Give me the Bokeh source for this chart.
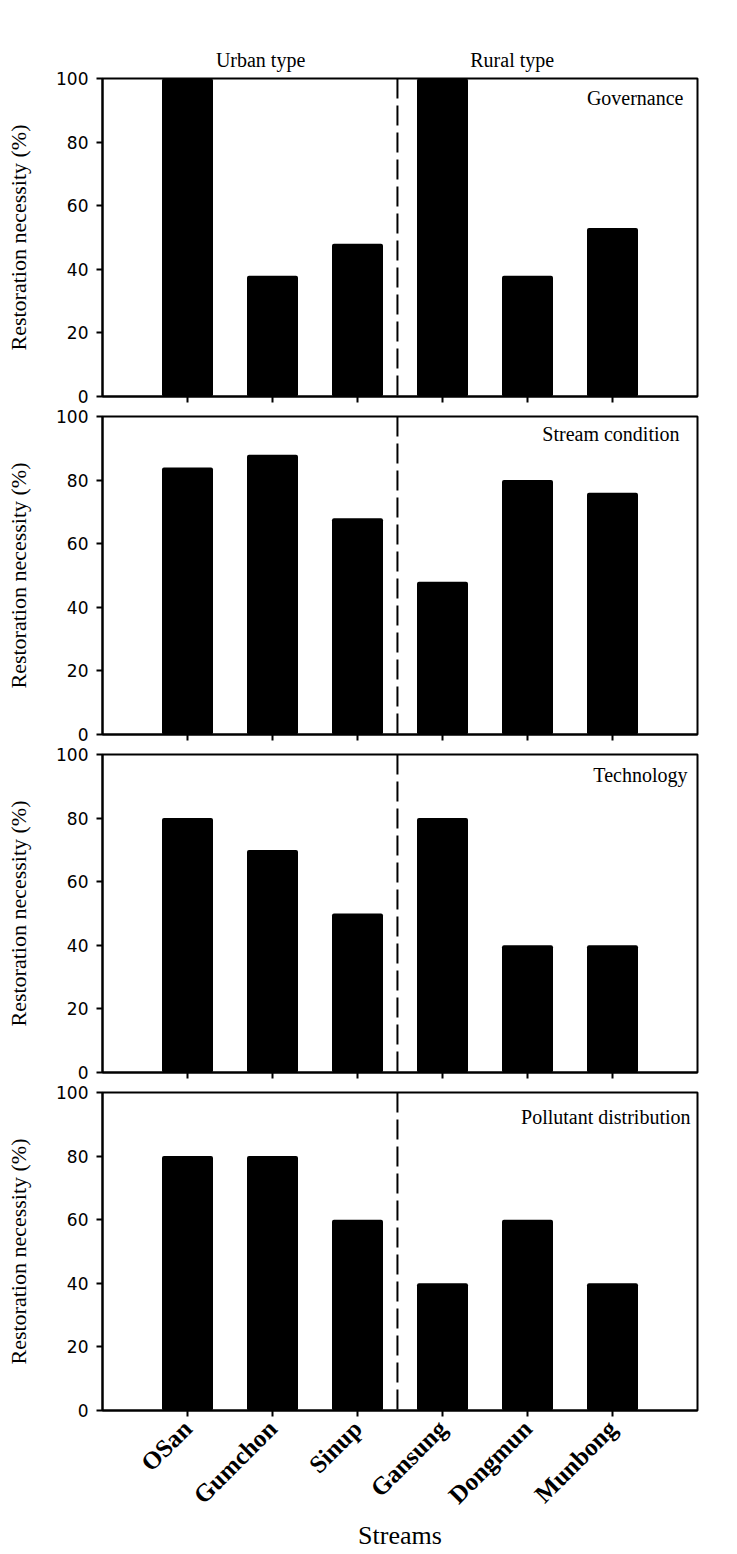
from bokeh.plotting import figure
from bokeh.layouts import column
from bokeh.models import Span, Label, FixedTicker, Range1d, LinearAxis
from bokeh.embed import file_html
from bokeh.resources import INLINE
import math

streams = ["OSan", "Gumchon", "Sinup", "Gansung", "Dongmun", "Munbong"]
panel_titles = ["Governance", "Stream condition", "Technology", "Pollutant distribution"]
governance = [100, 38, 48, 100, 38, 53]
stream_condition = [84, 88, 68, 48, 80, 76]
technology = [80, 70, 50, 80, 40, 40]
pollutant = [80, 80, 60, 40, 60, 40]
groups = ["Urban type", "Rural type"]
y_ticks = [0, 20, 40, 60, 80, 100]
divider = 3.47

series = [governance, stream_condition, technology, pollutant]
xs = list(range(1, len(streams) + 1))

SERIF = "Liberation Serif"
SANS = "DejaVu Sans"
W = 735
LEFT = 102
RIGHT = W - LEFT - 595

# per panel: (top border, frame height, bottom border)
geom = [(78, 318, 10), (10, 318, 10), (10, 318, 10), (10, 318, 144)]
title_offsets = [(-14, -8), (-18, -6), (-10, -9), (-7, -13)]
group_pos = [1.86, 4.82]

figs = []
for i, vals in enumerate(series):
    top, fh, bot = geom[i]
    last = i == len(series) - 1
    p = figure(width=W, height=top + fh + bot, output_backend="svg",
               toolbar_location=None, tools="",
               x_range=Range1d(0, 7), y_range=Range1d(0, 100),
               min_border_left=LEFT, min_border_right=RIGHT,
               min_border_top=top, min_border_bottom=bot)
    p.background_fill_color = "white"
    p.border_fill_color = "white"
    p.outline_line_color = "black"
    p.outline_line_width = 2
    p.grid.visible = False

    p.vbar(x=xs, top=vals, width=0.6, bottom=0, fill_color="black",
           line_color=None, border_radius=2)

    p.add_layout(Span(location=divider, dimension="height", line_color="black",
                      line_width=2, line_dash="20 7"))

    dx, dy = title_offsets[i]
    p.add_layout(Label(x=7, y=100, x_offset=dx, y_offset=dy, text=panel_titles[i],
                       text_font=SERIF, text_font_size="20px", text_align="right",
                       text_baseline="top", text_color="black"))

    xa = p.below[0]
    ya = p.left[0]

    if i == 0:
        top_axis = LinearAxis(ticker=FixedTicker(ticks=group_pos),
                              major_label_overrides={gx: g for gx, g in zip(group_pos, groups)})
        top_axis.axis_line_color = None
        top_axis.major_tick_line_color = None
        top_axis.minor_tick_line_color = None
        top_axis.major_tick_out = 0
        top_axis.major_label_text_font = SERIF
        top_axis.major_label_text_font_size = "20px"
        top_axis.major_label_text_color = "black"
        top_axis.major_label_standoff = 8
        p.add_layout(top_axis, "above")

    ya.ticker = FixedTicker(ticks=y_ticks)
    ya.axis_label = "Restoration necessity (%)"
    ya.axis_label_text_font = SERIF
    ya.axis_label_text_font_style = "normal"
    ya.axis_label_text_font_size = "22px"
    ya.axis_label_text_color = "black"
    ya.axis_label_standoff = 22
    ya.major_label_text_font = SANS
    ya.major_label_text_font_size = "17px"
    ya.major_label_text_color = "black"
    ya.major_label_standoff = 8
    ya.axis_line_width = 2
    ya.major_tick_line_width = 2
    ya.major_tick_out = 6
    ya.major_tick_in = 0
    ya.minor_tick_line_color = None

    xa.ticker = FixedTicker(ticks=xs)
    xa.axis_line_width = 2
    xa.major_tick_line_width = 2
    xa.major_tick_out = 6
    xa.major_tick_in = 0
    xa.minor_tick_line_color = None
    if last:
        xa.major_label_overrides = {x: s for x, s in zip(xs, streams)}
        xa.major_label_orientation = math.pi / 4
        xa.major_label_text_font = SERIF
        xa.major_label_text_font_style = "bold"
        xa.major_label_text_font_size = "25px"
        xa.major_label_text_color = "black"
        xa.major_label_standoff = 8
        xa.axis_label = "Streams"
        xa.axis_label_text_font = SERIF
        xa.axis_label_text_font_style = "normal"
        xa.axis_label_text_font_size = "26px"
        xa.axis_label_text_color = "black"
        xa.axis_label_standoff = 0
    else:
        xa.major_label_text_font_size = "0px"
        xa.major_label_standoff = 0
        xa.major_label_text_color = None
    figs.append(p)

layout = column(*figs, spacing=0)
open("out.html", "w").write(file_html(layout, INLINE))
